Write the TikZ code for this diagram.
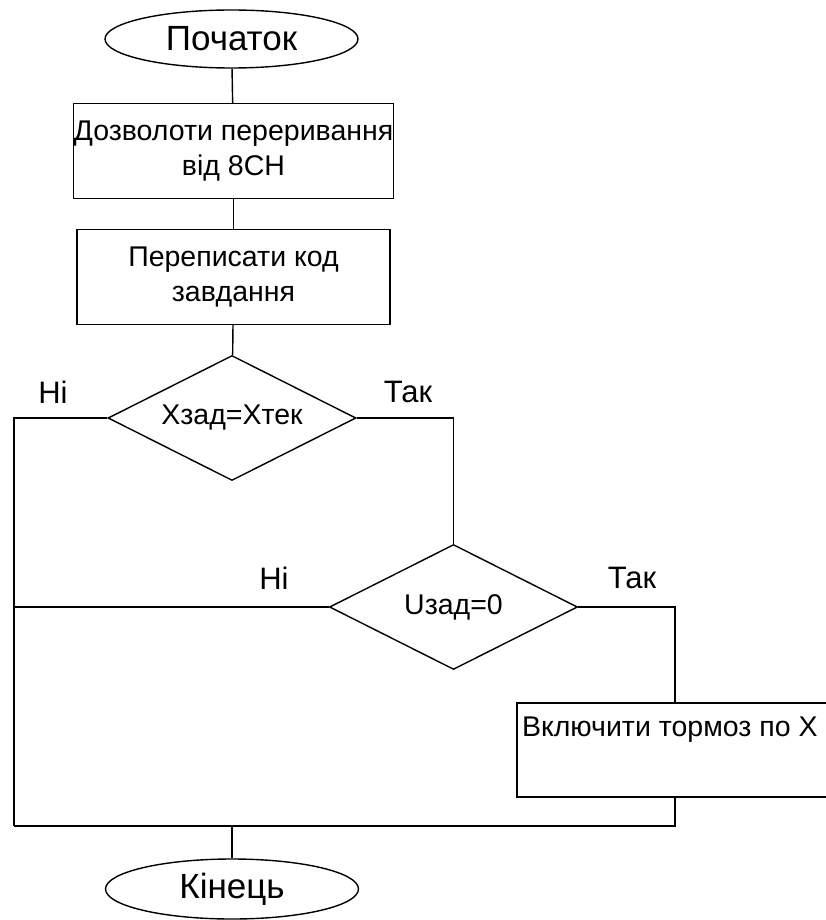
\documentclass[tikz,border=0pt]{standalone}
\usepackage{fontspec}
\setmainfont{Liberation Sans}
\usetikzlibrary{positioning, shapes}

\begin{document}
\begin{tikzpicture}[x=1pt, y=-1pt, line width=1.4pt,
					font=\fontsize{28.5}{35}\selectfont,
					term/.style={ellipse, draw, minimum width=253pt, minimum height=58pt, inner sep=0pt, font=\fontsize{35}{40}\selectfont},
					proc/.style={rectangle, draw, minimum width=313pt, minimum height=95pt, align=center, inner sep=0pt},
					cond/.style={diamond, aspect=2, draw, minimum width=248pt, minimum height=125pt, inner sep=0pt},
					lbl/.style={font=\fontsize{31}{36}\selectfont}]
					\useasboundingbox (0,0) rectangle (825,920);
					\node[term]    (S)  at (231.5,39)  {Початок};
					\node[proc]    (P1) at (233.5,151) {Дозволоти переривання\\від 8СН};
					\node[proc]    (P2) at (233.5,277) {Переписати код\\завдання};
					\node[cond]    (D1) at (232,418)   {Xзад=Xтек};
					\node[cond]    (D2) at (453.5,607) {Uзад=0};
					\node[rectangle, draw, minimum width=360pt, minimum height=94pt,
						  label={[anchor=north west, xshift=5pt, yshift=-14pt, inner sep=0pt]north west:Включити тормоз по X}]
						  (P3) at (697,750) {};
					\node[term, minimum height=60pt] (E) at (232,889) {Кінець};
					
					%Позначки гілок:
					\node[lbl] (n1) at (53,392)  {Ні};
					\node[lbl] (y1) at (408,392) {Так};
					\node[lbl] (n2) at (274,578) {Ні};
					\node[lbl] (y2) at (632,578) {Так};
					
					\coordinate (L)  at (14,826);
					\coordinate (J)  at (232,826);
					\coordinate (Bi) at (675,703);
					\coordinate (Bo) at (675,797);
					
					%Зєднання:
					\draw (S) -- (P1);
					\draw (P1) -- (P2);
					\draw (P2) -- (D1);
					\draw (D1.west) -| (L);
					\draw (D1.east) -| (D2.north);
					\draw (D2.west) -- (D2.west -| L);
					\draw (D2.east) -| (Bi);
					\draw (Bo) |- (L);
					\draw (J) -- (E);
				\end{tikzpicture}
\end{document}
